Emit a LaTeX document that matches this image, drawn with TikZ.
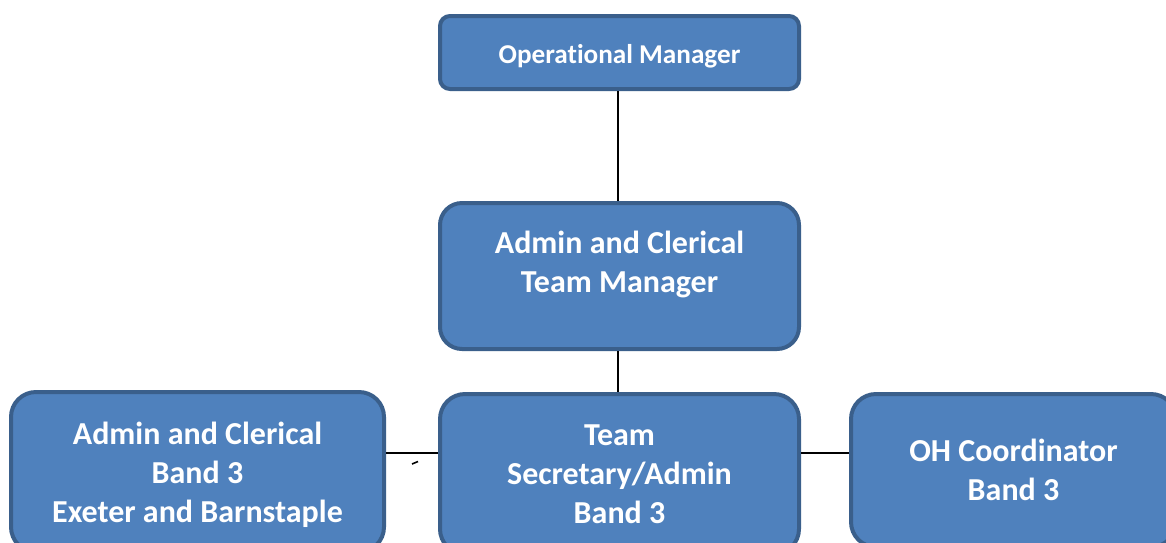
\documentclass[tikz,border=0pt]{standalone}
\usepackage{fontspec}
\setmainfont[Ligatures=NoCommon]{Carlito}
\definecolor{boxfill}{HTML}{4F81BD}
\definecolor{boxline}{HTML}{3A5F8B}
\begin{document}
\begin{tikzpicture}[x=1pt,y=-1pt,
  orgbox/.style={draw=boxline, fill=boxfill, line width=4pt, inner sep=0pt, anchor=center},
  orgtext/.style={text=white, font=\bfseries\fontsize{32}{39}\selectfont, align=center, inner sep=0pt},
  link/.style={draw=black, line width=1.8pt}]
\useasboundingbox (0,0) rectangle (1166,542);
\clip (0,0) rectangle (1166,542);
% boxes
\node[orgbox, rounded corners=10pt, minimum width=359pt, minimum height=73pt] (top) at (619.5,52.5) {};
\node[orgbox, rounded corners=22pt, minimum width=359pt, minimum height=146pt] (mid) at (619.5,276) {};
\node[orgbox, rounded corners=25pt, minimum width=373pt, minimum height=160pt] (left) at (197.5,472) {};
\node[orgbox, rounded corners=25pt, minimum width=359pt, minimum height=160pt] (bm) at (619.5,474) {};
\node[orgbox, rounded corners=25pt, minimum width=325pt, minimum height=153pt] (right) at (1013.5,470.5) {};
% texts
\node[orgtext, font=\bfseries\fontsize{27.2}{32}\selectfont] (toptext) at (619.5,56.5) {Operational Manager};
\node[orgtext] (midtext) at (619.5,264.5) {Admin and Clerical\\Team Manager};
\node[orgtext] (lefttext) at (197.5,475) {Admin and Clerical\\Band 3\\Exeter and Barnstaple};
\node[orgtext] (bmtext) at (619.5,474) {Team\\Secretary/Admin\\Band 3};
\node[orgtext] (righttext) at (1013.5,469.5) {OH Coordinator\\Band 3};
% connectors
\coordinate (hl) at (0,453);
\draw[link] ([xshift=-1.5pt]top.south) -- ([xshift=-1.5pt]mid.north);
\draw[link] ([xshift=-1.5pt]mid.south) -- ([xshift=-1.5pt]bm.north);
\draw[link] (left.east |- hl) -- (bm.west |- hl);
\draw[link] (bm.east |- hl) -- (right.west |- hl);
% stray tick
\coordinate (t1) at (412,464);
\coordinate (t2) at (418,461.5);
\draw[line width=1.6pt] (t1) -- (t2);
\end{tikzpicture}
\end{document}
